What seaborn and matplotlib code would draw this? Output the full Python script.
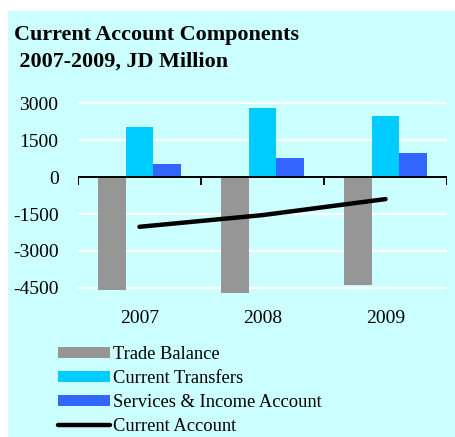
import matplotlib
matplotlib.use("Agg")
import matplotlib.pyplot as plt
from matplotlib.patches import Rectangle, Patch
from matplotlib.lines import Line2D
import seaborn as sns
import pandas as pd

# Current account components, JD million
years = ["2007", "2008", "2009"]
trade_balance = [-4590, -4700, -4390]
current_transfers = [2030, 2805, 2480]
services_income = [528, 772, 988]
current_account = [-2020, -1545, -894]

components = ["Trade Balance", "Current Transfers", "Services & Income Account"]
colors = ["#969696", "#00CCFF", "#3366FF"]
bg = "#CCFFFF"

df = pd.DataFrame({
    "year": years * 3,
    "value": trade_balance + current_transfers + services_income,
    "component": [c for c in components for _ in years],
})

sns.set_theme(style="white")
plt.rcParams["font.family"] = ["Liberation Serif", "DejaVu Serif"]
plt.rcParams["text.color"] = "black"
plt.rcParams["xtick.color"] = "black"
plt.rcParams["ytick.color"] = "black"

fig = plt.figure(figsize=(4.56, 4.37), dpi=100, facecolor="white")
fig.patches.append(Rectangle((8 / 456, 0), 1 - 8 / 456, 1 - 11 / 437,
                             transform=fig.transFigure, facecolor=bg,
                             edgecolor="none", zorder=-10))

ax = fig.add_axes([78 / 456, (437 - 295.2) / 437, 369 / 456, 199.3 / 437])
ax.set_facecolor(bg)

sns.barplot(data=df, x="year", y="value", hue="component", hue_order=components,
            palette=colors, width=0.675, gap=0, saturation=1, ax=ax,
            legend=False, zorder=3, linewidth=0, edgecolor="none")
sns.lineplot(x=[0, 1, 2], y=current_account, color="black", lw=3.2, ax=ax,
             zorder=4, solid_capstyle="round")

ax.set_xlim(-0.5, 2.5)
ax.set_ylim(-4800, 3300)
ax.set_yticks([-4500, -3000, -1500, 0, 1500, 3000])
ax.set_yticklabels(["-4500", "-3000", "-1500", "0", "1500", "3000"], fontsize=14)
ax.set_xticks([0, 1, 2])
ax.set_xticklabels(years, fontsize=14)
ax.tick_params(axis="y", length=0, pad=14)
ax.tick_params(axis="x", length=0, pad=11)
ax.set_xlabel("")
ax.set_ylabel("")
for s in ax.spines.values():
    s.set_visible(False)

for v in [-4500, -3000, -1500, 1500, 3000]:
    ax.axhline(v, color="white", lw=1.6, zorder=1)
ax.axhline(0, color="black", lw=1.4, zorder=5)
ax.vlines([-0.5, 0.5, 1.5, 2.5], -330, 0, color="black", lw=1.4, zorder=5)

fig.text(14 / 456, 1 - 35 / 437, "Current Account Components", fontsize=15.9,
         fontweight="bold", va="center", ha="left")
fig.text(14 / 456, 1 - 62 / 437, " 2007-2009, JD Million", fontsize=15.9,
         fontweight="bold", va="center", ha="left")

handles = [Patch(facecolor=c, edgecolor="none") for c in colors]
handles.append(Line2D([0], [0], color="black", lw=3.2, solid_capstyle="round"))
leg = fig.legend(handles, components + ["Current Account"], loc="upper left",
                 bbox_to_anchor=(58 / 456, 1 - 346 / 437), frameon=False,
                 fontsize=13.3, handlelength=2.8, handleheight=0.6,
                 labelspacing=0.38, handletextpad=0.2, borderpad=0,
                 borderaxespad=0)

fig.savefig("out.png", dpi=100, facecolor="white")
